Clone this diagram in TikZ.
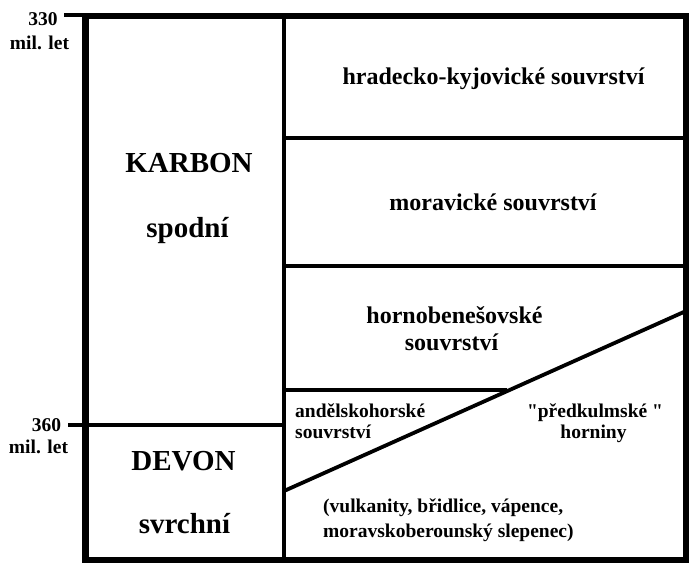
\documentclass[tikz,border=0pt]{standalone}
\usepackage{fontspec}
\setmainfont{Liberation Serif}
\begin{document}
\begin{tikzpicture}[x=1pt,y=-1pt,
  frame/.style={line width=6.5pt, line join=miter},
  rule/.style={line width=3.8pt},
  bigtxt/.style={font=\fontsize{29}{29}\selectfont\bfseries, inner sep=0pt, anchor=base},
  midtxt/.style={font=\fontsize{24}{24}\selectfont\bfseries, inner sep=0pt, anchor=base},
  smalltxt/.style={font=\fontsize{19.5}{19.5}\selectfont\bfseries, inner sep=0pt, anchor=base},
]
\useasboundingbox (0,0) rectangle (693,563);

% outer frame
\draw[frame] (85.5,16) rectangle (686,560);
% vertical divider
\draw[rule] (284,16) -- (284,560);
% right column layers
\draw[rule] (284,138) -- (686,138);
\draw[rule] (284,266) -- (686,266);
\draw[rule] (284,390) -- (507,390);
\draw[rule] (284,491) -- (686,311);
% time ticks
\draw[rule] (64,15) -- (85.5,15);
\draw[rule] (68,425) -- (284,425);

% time labels
\node[smalltxt] (t330) at (43,25) {330};
\node[smalltxt] (m330) at (39.5,49) {mil. let};
\node[smalltxt] (t360) at (46.5,431) {360};
\node[smalltxt] (m360) at (38.5,453) {mil. let};

% periods
\node[bigtxt] (karbon) at (189,172) {KARBON};
\node[bigtxt] (spodni) at (187.5,237) {spodní};
\node[bigtxt] (devon) at (183.5,470) {DEVON};
\node[bigtxt] (svrchni) at (184.5,533) {svrchní};

% formations
\node[midtxt] (hk) at (493.5,84) {hradecko-kyjovické souvrství};
\node[midtxt] (mor) at (493,210) {moravické souvrství};
\node[midtxt] (hb1) at (454.5,323) {hornobenešovské};
\node[midtxt] (hb2) at (451.5,350) {souvrství};
\node[smalltxt, anchor=base west] (and1) at (295,417) {andělskohorské};
\node[smalltxt, anchor=base west] (and2) at (295,438) {souvrství};
\node[smalltxt] (pk1) at (595,417) {\textquotedbl předkulmské \textquotedbl};
\node[smalltxt] (pk2) at (593.5,438) {horniny};
\node[smalltxt, anchor=base west] (v1) at (323,512) {(vulkanity, břidlice, vápence,};
\node[smalltxt, anchor=base west] (v2) at (323,537) {moravskoberounský slepenec)};
\end{tikzpicture}
\end{document}
